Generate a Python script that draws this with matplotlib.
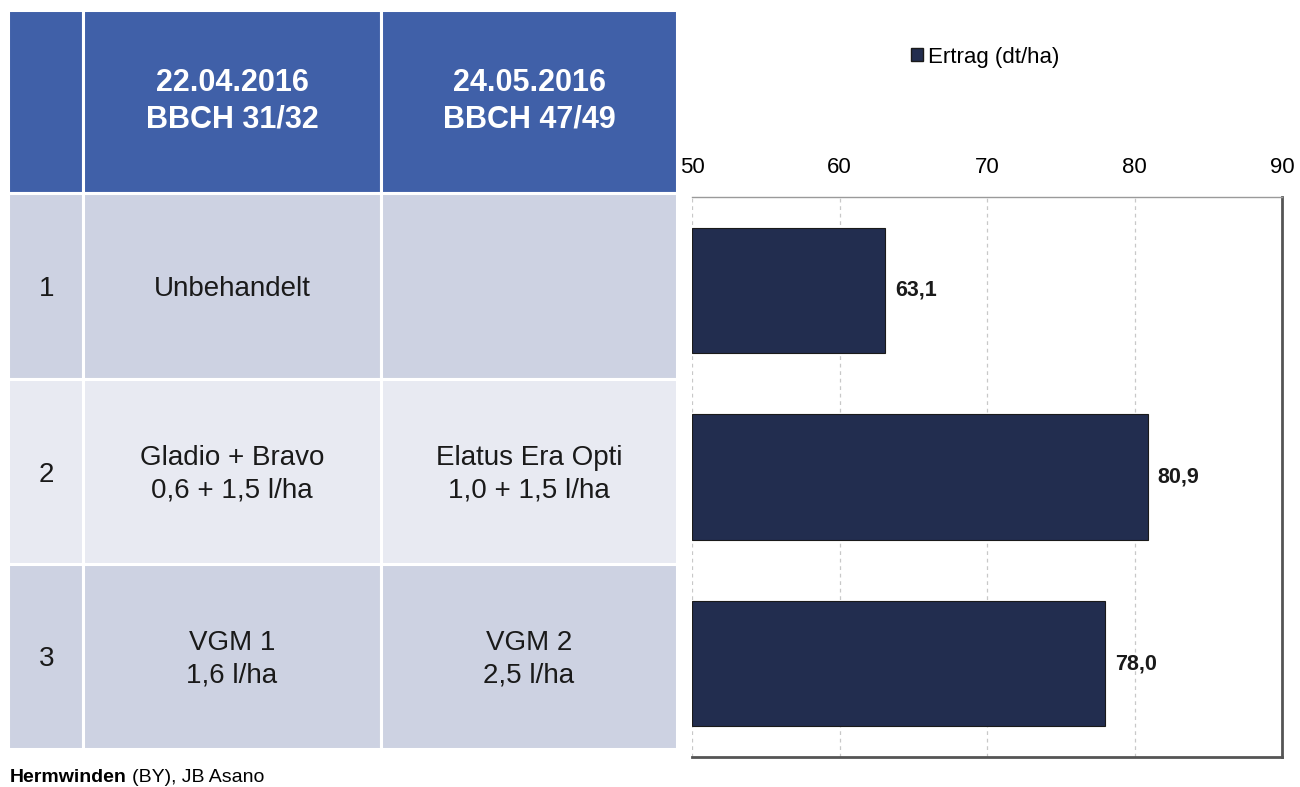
import matplotlib
matplotlib.use("Agg")
import matplotlib.pyplot as plt
from matplotlib.patches import Rectangle, Patch

plt.rcParams['font.family'] = ['Liberation Sans', 'DejaVu Sans']

# ---- data ----
variants = ["1", "2", "3"]
treat_1 = ["Unbehandelt", "Gladio + Bravo\n0,6 + 1,5 l/ha", "VGM 1\n1,6 l/ha"]
treat_2 = ["", "Elatus Era Opti\n1,0 + 1,5 l/ha", "VGM 2\n2,5 l/ha"]
header_1 = "22.04.2016\nBBCH 31/32"
header_2 = "24.05.2016\nBBCH 47/49"
ertrag = [63.1, 80.9, 78.0]
series_name = "Ertrag (dt/ha)"
x_ticks = [50, 60, 70, 80, 90]
footer_bold = "Hermwinden"
footer_rest = "(BY), JB Asano"

# ---- colours ----
HEADER = "#4060A8"
ROW_DARK = "#CDD2E2"
ROW_LIGHT = "#E8EAF2"
BAR = "#222D4F"
TXT = "#1a1a1a"

W, H = 1300, 787
fig = plt.figure(figsize=(W / 100, H / 100), dpi=100)

# background axes in pixel coordinates for the table
tax = fig.add_axes([0, 0, 1, 1])
tax.set_xlim(0, W)
tax.set_ylim(H, 0)
tax.axis("off")

cols = [(8, 83), (83, 381), (381, 677)]
rows = [(10, 193), (193, 379), (379, 564), (564, 749)]
row_colors = [HEADER, ROW_DARK, ROW_LIGHT, ROW_DARK]

for (y0, y1), c in zip(rows, row_colors):
    for (x0, x1) in cols:
        tax.add_patch(Rectangle((x0, y0), x1 - x0, y1 - y0, facecolor=c,
                                edgecolor="white", linewidth=2.2))

def cx(i):
    return (cols[i][0] + cols[i][1]) / 2

def cy(j):
    return (rows[j][0] + rows[j][1]) / 2

tax.text(cx(1), cy(0), header_1, ha="center", va="center", color="white",
         fontsize=22, fontweight="bold", linespacing=1.28)
tax.text(cx(2), cy(0), header_2, ha="center", va="center", color="white",
         fontsize=22, fontweight="bold", linespacing=1.28)

for j in range(3):
    yc = cy(j + 1) + 3
    tax.text(cx(0) + 1, yc, variants[j], ha="center", va="center",
             color=TXT, fontsize=20)
    tax.text(cx(1), yc, treat_1[j], ha="center", va="center",
             color=TXT, fontsize=20, linespacing=1.32)
    tax.text(cx(2), yc, treat_2[j], ha="center", va="center",
             color=TXT, fontsize=20, linespacing=1.32)

# footer
t = tax.text(10, 778, footer_bold, ha="left", va="center", color="black",
             fontsize=14, fontweight="bold")
tax.annotate(footer_rest, xycoords=t, xy=(1, 0.5), xytext=(4, 0),
             textcoords="offset points", va="center", ha="left",
             fontsize=14, color="black")

# ---- bar chart ----
ax_l, ax_r, ax_t, ax_b = 692, 1282, 197, 757
ax = fig.add_axes([ax_l / W, 1 - ax_b / H, (ax_r - ax_l) / W, (ax_b - ax_t) / H])
ypos = list(range(len(ertrag)))
ax.barh(ypos, [v - x_ticks[0] for v in ertrag], left=x_ticks[0],
        height=0.67, color=BAR, edgecolor="#1a1a1a", linewidth=0.8,
        zorder=3, label=series_name)
ax.set_xlim(x_ticks[0], x_ticks[-1])
ax.set_ylim(len(ertrag) - 0.5, -0.5)
ax.set_xticks(x_ticks)
ax.set_xticklabels([str(v) for v in x_ticks])
ax.xaxis.tick_top()
ax.tick_params(axis="x", length=0, pad=14, labelsize=16, colors="black")
ax.set_yticks([])
ax.grid(axis="x", color="#c8c8c8", linestyle=(0, (3, 3)), linewidth=0.9, zorder=0)

for v, yp in zip(ertrag, ypos):
    ax.annotate(f"{v:.1f}".replace(".", ","), xy=(v, yp), xytext=(7, 0),
                textcoords="offset points", ha="left", va="center",
                fontsize=15.5, fontweight="bold", color=TXT)

ax.spines["left"].set_visible(False)
ax.spines["top"].set_color("#9a9a9a")
ax.spines["top"].set_linewidth(1.0)
for s in ("right", "bottom"):
    ax.spines[s].set_color("#555555")
    ax.spines[s].set_linewidth(2.0)

fig.legend(handles=[Patch(facecolor=BAR, edgecolor="#1a1a1a", label=series_name)],
           loc="center", bbox_to_anchor=(985 / W, 1 - 57 / H), frameon=False,
           fontsize=16, handlelength=0.55, handleheight=0.55, handletextpad=0.2)

fig.savefig("out.png", dpi=100)
